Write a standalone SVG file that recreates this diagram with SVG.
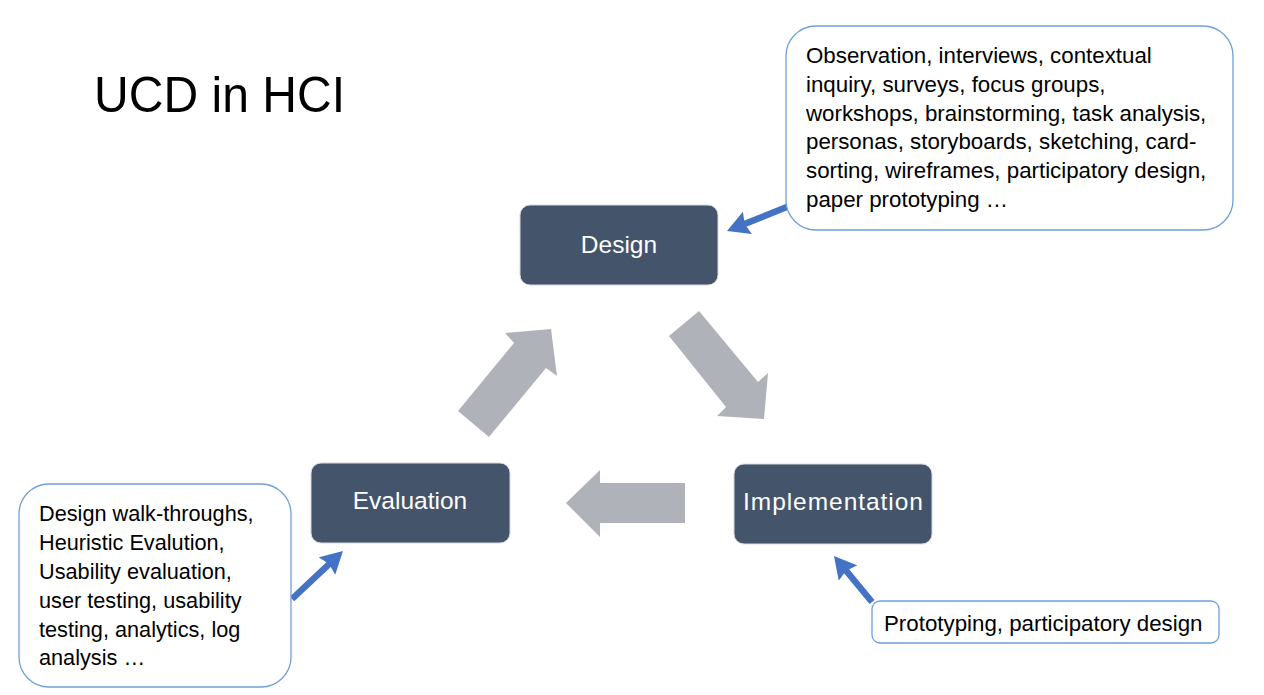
<svg xmlns="http://www.w3.org/2000/svg" width="1264" height="695" viewBox="0 0 1264 695">
  <style>
    .title { font-family: "Liberation Sans", Arial, sans-serif; font-size: 50px; fill: #000000; }
    .node rect { fill: #44546A; stroke: #d6d9de; stroke-width: 1; }
    .node text { font-family: "Liberation Sans", Arial, sans-serif; font-size: 24.5px; fill: #ffffff; text-anchor: middle; }
    .note rect { fill: #ffffff; stroke: #6fa0d8; stroke-width: 1.3; }
    .note text { font-family: "Liberation Sans", Arial, sans-serif; font-size: 21.7px; fill: #000000; }
    .note.wide text { font-size: 22.3px; }
    .flow { fill: #AFB2B9; }
    .pointer { stroke: #4472C4; stroke-width: 6.5; fill: none; marker-end: url(#head); }
  </style>
  <defs>
    <marker id="head" viewBox="0 0 22 24" refX="8" refY="12" markerWidth="22" markerHeight="24" markerUnits="userSpaceOnUse" orient="auto">
      <path d="M0,0 L22,12 L0,24 L3,12 Z" fill="#4472C4"/>
    </marker>
  </defs>

  <rect width="1264" height="695" fill="#ffffff"/>

  <text class="title" x="94" y="112" textLength="251" lengthAdjust="spacingAndGlyphs">UCD in HCI</text>

  <!-- cycle arrows and pointers from the notes -->
  <g id="connectors">
    <polygon class="flow" points="458,411 514,343 505,333 551,329 557,376 546,368 489,437"/>
    <polygon class="flow" points="669,336 699,311 758,382 768,373 764,419 717,416 726,407"/>
    <polygon class="flow" points="685,483 600,483 600,470 566,503 600,537 600,523 685,523"/>
    <line class="pointer" x1="788" y1="206.5" x2="740" y2="225.8"/>
    <line class="pointer" x1="292" y1="599" x2="332.8" y2="560.6"/>
    <line class="pointer" x1="872" y1="602" x2="842.9" y2="566.8"/>
  </g>

  <g id="design" class="node">
    <rect x="520" y="205" width="198" height="80" rx="10"/>
    <text x="619" y="253">Design</text>
  </g>

  <g id="implementation" class="node">
    <rect x="734" y="464" width="198" height="80" rx="10"/>
    <text x="833" y="510" textLength="180">Implementation</text>
  </g>

  <g id="evaluation" class="node">
    <rect x="311" y="463" width="199" height="80" rx="10"/>
    <text x="410" y="509">Evaluation</text>
  </g>

  <g id="design-methods" class="note wide">
    <rect x="786" y="26" width="447" height="204" rx="30"/>
    <text x="806" y="63">Observation, interviews, contextual</text>
    <text x="806" y="92">inquiry, surveys, focus groups,</text>
    <text x="806" y="121">workshops, brainstorming, task analysis,</text>
    <text x="806" y="149">personas, storyboards, sketching, card-</text>
    <text x="806" y="178">sorting, wireframes, participatory design,</text>
    <text x="806" y="207">paper prototyping …</text>
  </g>

  <g id="evaluation-methods" class="note">
    <rect x="19" y="484" width="272" height="203" rx="30"/>
    <text x="39" y="521">Design walk-throughs,</text>
    <text x="39" y="550">Heuristic Evalution,</text>
    <text x="39" y="579">Usability evaluation,</text>
    <text x="39" y="608">user testing, usability</text>
    <text x="39" y="637">testing, analytics, log</text>
    <text x="39" y="665">analysis …</text>
  </g>

  <g id="implementation-methods" class="note wide">
    <rect x="872" y="601" width="347" height="42" rx="8"/>
    <text x="884" y="631">Prototyping, participatory design</text>
  </g>
</svg>
